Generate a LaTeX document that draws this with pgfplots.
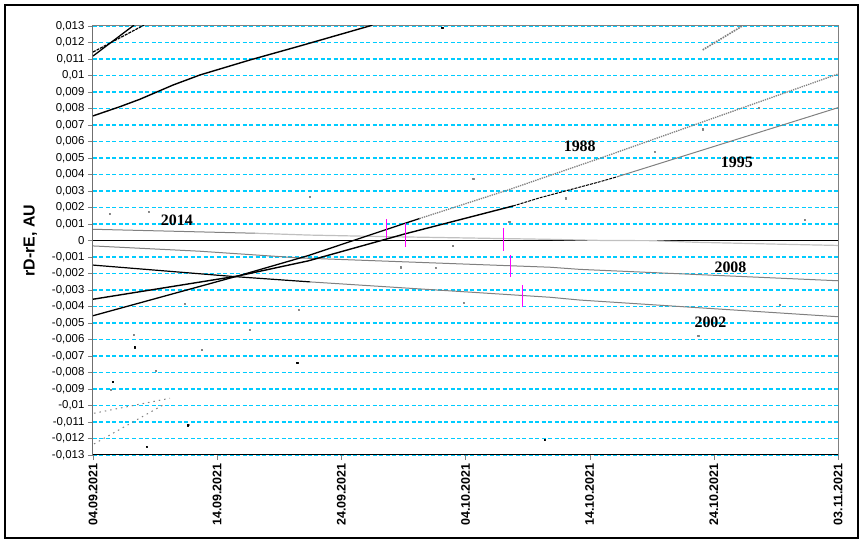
\documentclass[border=0pt]{standalone}
\usepackage{pgfplots}
\pgfplotsset{compat=1.18}
\usepackage{fontspec}
\setmainfont{Liberation Sans}
\newfontfamily\yearfont{Liberation Serif}
\definecolor{gridcyan}{RGB}{0,204,255}
\definecolor{midgray}{RGB}{128,128,128}
\definecolor{lightgray2}{RGB}{192,192,192}
\definecolor{mag}{RGB}{255,0,255}

\begin{document}
\begin{tikzpicture}[x=1bp,y=1bp]
\begin{axis}[
    scale only axis,
    width=745bp, height=429bp,
    xmin=0, xmax=60,
    ymin=-0.013, ymax=0.013,
    scaled y ticks=false,
    xtick={0,10,20,30,40,50,60},
    xticklabels={04.09.2021,14.09.2021,24.09.2021,04.10.2021,14.10.2021,24.10.2021,03.11.2021},
    ytick={-0.013,-0.012,-0.011,-0.01,-0.009,-0.008,-0.007,-0.006,-0.005,-0.004,-0.003,-0.002,-0.001,0,0.001,0.002,0.003,0.004,0.005,0.006,0.007,0.008,0.009,0.01,0.011,0.012,0.013},
    yticklabels={{-0,013},{-0,012},{-0,011},{-0,01},{-0,009},{-0,008},{-0,007},{-0,006},{-0,005},{-0,004},{-0,003},{-0,002},{-0,001},{0},{0,001},{0,002},{0,003},{0,004},{0,005},{0,006},{0,007},{0,008},{0,009},{0,01},{0,011},{0,012},{0,013}},
    ymajorgrids,
    major grid style={draw=gridcyan, dash pattern=on 4bp off 2.5bp, line width=1.1bp},
    axis line style={midgray, line width=1bp},
    tick align=outside,
    major tick length=5bp,
    xtick pos=bottom, ytick pos=left,
    xticklabel style={rotate=90, anchor=east, font=\fontsize{12.5}{14}\selectfont\bfseries},
    yticklabel style={font=\fontsize{11.5}{13}\selectfont},
    ylabel={rD-rE, AU},
    ylabel style={at={(axis description cs:-0.084,0.5)}, anchor=center, font=\fontsize{16}{18}\selectfont\bfseries},
    every axis plot/.append style={line join=round, mark=none},
]

% zero line (with the gap where the 2014 curve lies on it)
\addplot[black, line width=1.2bp] coordinates {(0,0) (41.2,0)};
\addplot[black, line width=1.2bp] coordinates {(45,0) (60,0)};

% 2014
\addplot[midgray, line width=1bp] coordinates {(0,0.00068) (13.04,0.00044)};
\addplot[lightgray2, line width=1.2bp] coordinates {(13.04,0.00044) (17.31,0.00033) (23.91,0.00023) (36.8,0.00007) (39.21,0.00003) (41.2,0.0) (45,-0.00001) (48.6,-0.00011) (55.6,-0.00023) (60,-0.0003)};

% 2008
\addplot[midgray, line width=1bp] coordinates {(0,-0.00033) (8.6,-0.00065) (16.7,-0.00106) (36.8,-0.00162) (39.21,-0.00175) (60,-0.00244)};

% 2002
\addplot[black, line width=1.2bp] coordinates {(0,-0.00149) (11.43,-0.00219) (17.5,-0.00251)};
\addplot[midgray, line width=1bp] coordinates {(17.5,-0.00251) (36.8,-0.00344) (39.21,-0.00361) (60,-0.00462)};

% 1995
\addplot[black, line width=1.4bp] coordinates {(0,-0.00356) (11.67,-0.00215) (17.31,-0.00124) (25.12,0.0004) (33.82,0.00209)};
\addplot[black, line width=1bp, dash pattern=on 3bp off 1bp] coordinates {(33.82,0.00209) (35.99,0.00259) (40.82,0.00356) (42.2,0.00386)};
\addplot[midgray, line width=1bp] coordinates {(42.2,0.00386) (60,0.00805)};

% 1988
\addplot[black, line width=1.3bp] coordinates {(0,-0.00456) (11.67,-0.00215) (17.31,-0.00092) (25.12,0.00104) (26.3,0.00133)};
\addplot[midgray, line width=1.3bp, densely dotted] coordinates {(26.3,0.00133) (33.41,0.00306) (35.99,0.00373) (40.82,0.00498) (60,0.01009)};

% upper left curve
\addplot[black, line width=1.4bp] coordinates {(0,0.00755) (2.17,0.00811) (3.78,0.00856) (6.44,0.00942) (8.61,0.01003) (12.64,0.01094) (16.67,0.01179) (22.5,0.01305)};
\addplot[black, line width=1.3bp] coordinates {(0,0.01118) (3.3,0.01305)};
\addplot[black, line width=1.2bp, dash pattern=on 3bp off 1bp] coordinates {(0,0.01142) (4.1,0.01305)};

% upper right fragment
\addplot[midgray, line width=1.6bp, densely dotted] coordinates {(49.1,0.01155) (52.4,0.01305)};

% lower left fragments
\addplot[midgray, line width=1bp, dash pattern=on 1.5bp off 4bp] coordinates {(0.08,-0.01047) (6.2,-0.00956)};
\addplot[midgray, line width=1bp, dash pattern=on 1.5bp off 4bp] coordinates {(0.08,-0.01233) (5.64,-0.00997)};

% scattered points
\addplot[only marks, mark=square*, mark size=0.6bp, draw=midgray, fill=midgray] coordinates {
(7.38,-0.00381) (16.56,-0.00417) (3.28,-0.00573) (12.62,-0.00542) (8.78,-0.00664)
(5.07,-0.00787) (1.45,-0.00902) (7.67,-0.01118) (1.34,0.00161) (4.48,0.00175)
(17.47,0.00265) (24.77,-0.00162) (27.59,-0.00165) (28.99,-0.00033) (33.52,0.00114)
(30.62,0.00373) (29.87,-0.00375) (49.09,0.00674) (45.25,0.00538) (53.62,0.00807)
(57.33,0.00124) (38.08,0.00256) (55.31,-0.00387) (48.74,-0.00579)};
\addplot[only marks, mark=square*, mark size=0.6bp, draw=black, fill=black] coordinates {
(3.36,-0.00647) (16.45,-0.00741) (1.61,-0.00858) (7.65,-0.0112) (4.32,-0.0125)
(28.12,0.01288) (36.39,-0.01209)};

% magenta markers
\addplot[mag, line width=1.2bp] coordinates {(23.65,0.0013) (23.65,0.00015)};
\addplot[mag, line width=1.2bp] coordinates {(25.18,0.00106) (25.18,-0.00039)};
\addplot[mag, line width=1.2bp] coordinates {(33.04,0.00076) (33.04,-0.00062)};
\addplot[mag, line width=1.2bp] coordinates {(33.63,-0.00088) (33.63,-0.00223)};
\addplot[mag, line width=1.2bp] coordinates {(34.57,-0.0027) (34.57,-0.00405)};

% year labels
\node[font=\yearfont\fontsize{16}{18}\selectfont\bfseries] at (axis cs:39.2,0.00569) {1988};
\node[font=\yearfont\fontsize{16}{18}\selectfont\bfseries] at (axis cs:51.85,0.00476) {1995};
\node[font=\yearfont\fontsize{16}{18}\selectfont\bfseries] at (axis cs:6.76,0.00121) {2014};
\node[font=\yearfont\fontsize{16}{18}\selectfont\bfseries] at (axis cs:51.34,-0.00164) {2008};
\node[font=\yearfont\fontsize{16}{18}\selectfont\bfseries] at (axis cs:49.73,-0.00497) {2002};

\draw[black, line width=1bp] (rel axis cs:0,1) -- (rel axis cs:0,0) -- (rel axis cs:1,0);
\end{axis}
\draw[black, line width=1.2bp] (-88,-83) rectangle (765,450);
\pgfresetboundingbox
\useasboundingbox (-93,-89) rectangle (772,455);
\end{tikzpicture}
\end{document}
